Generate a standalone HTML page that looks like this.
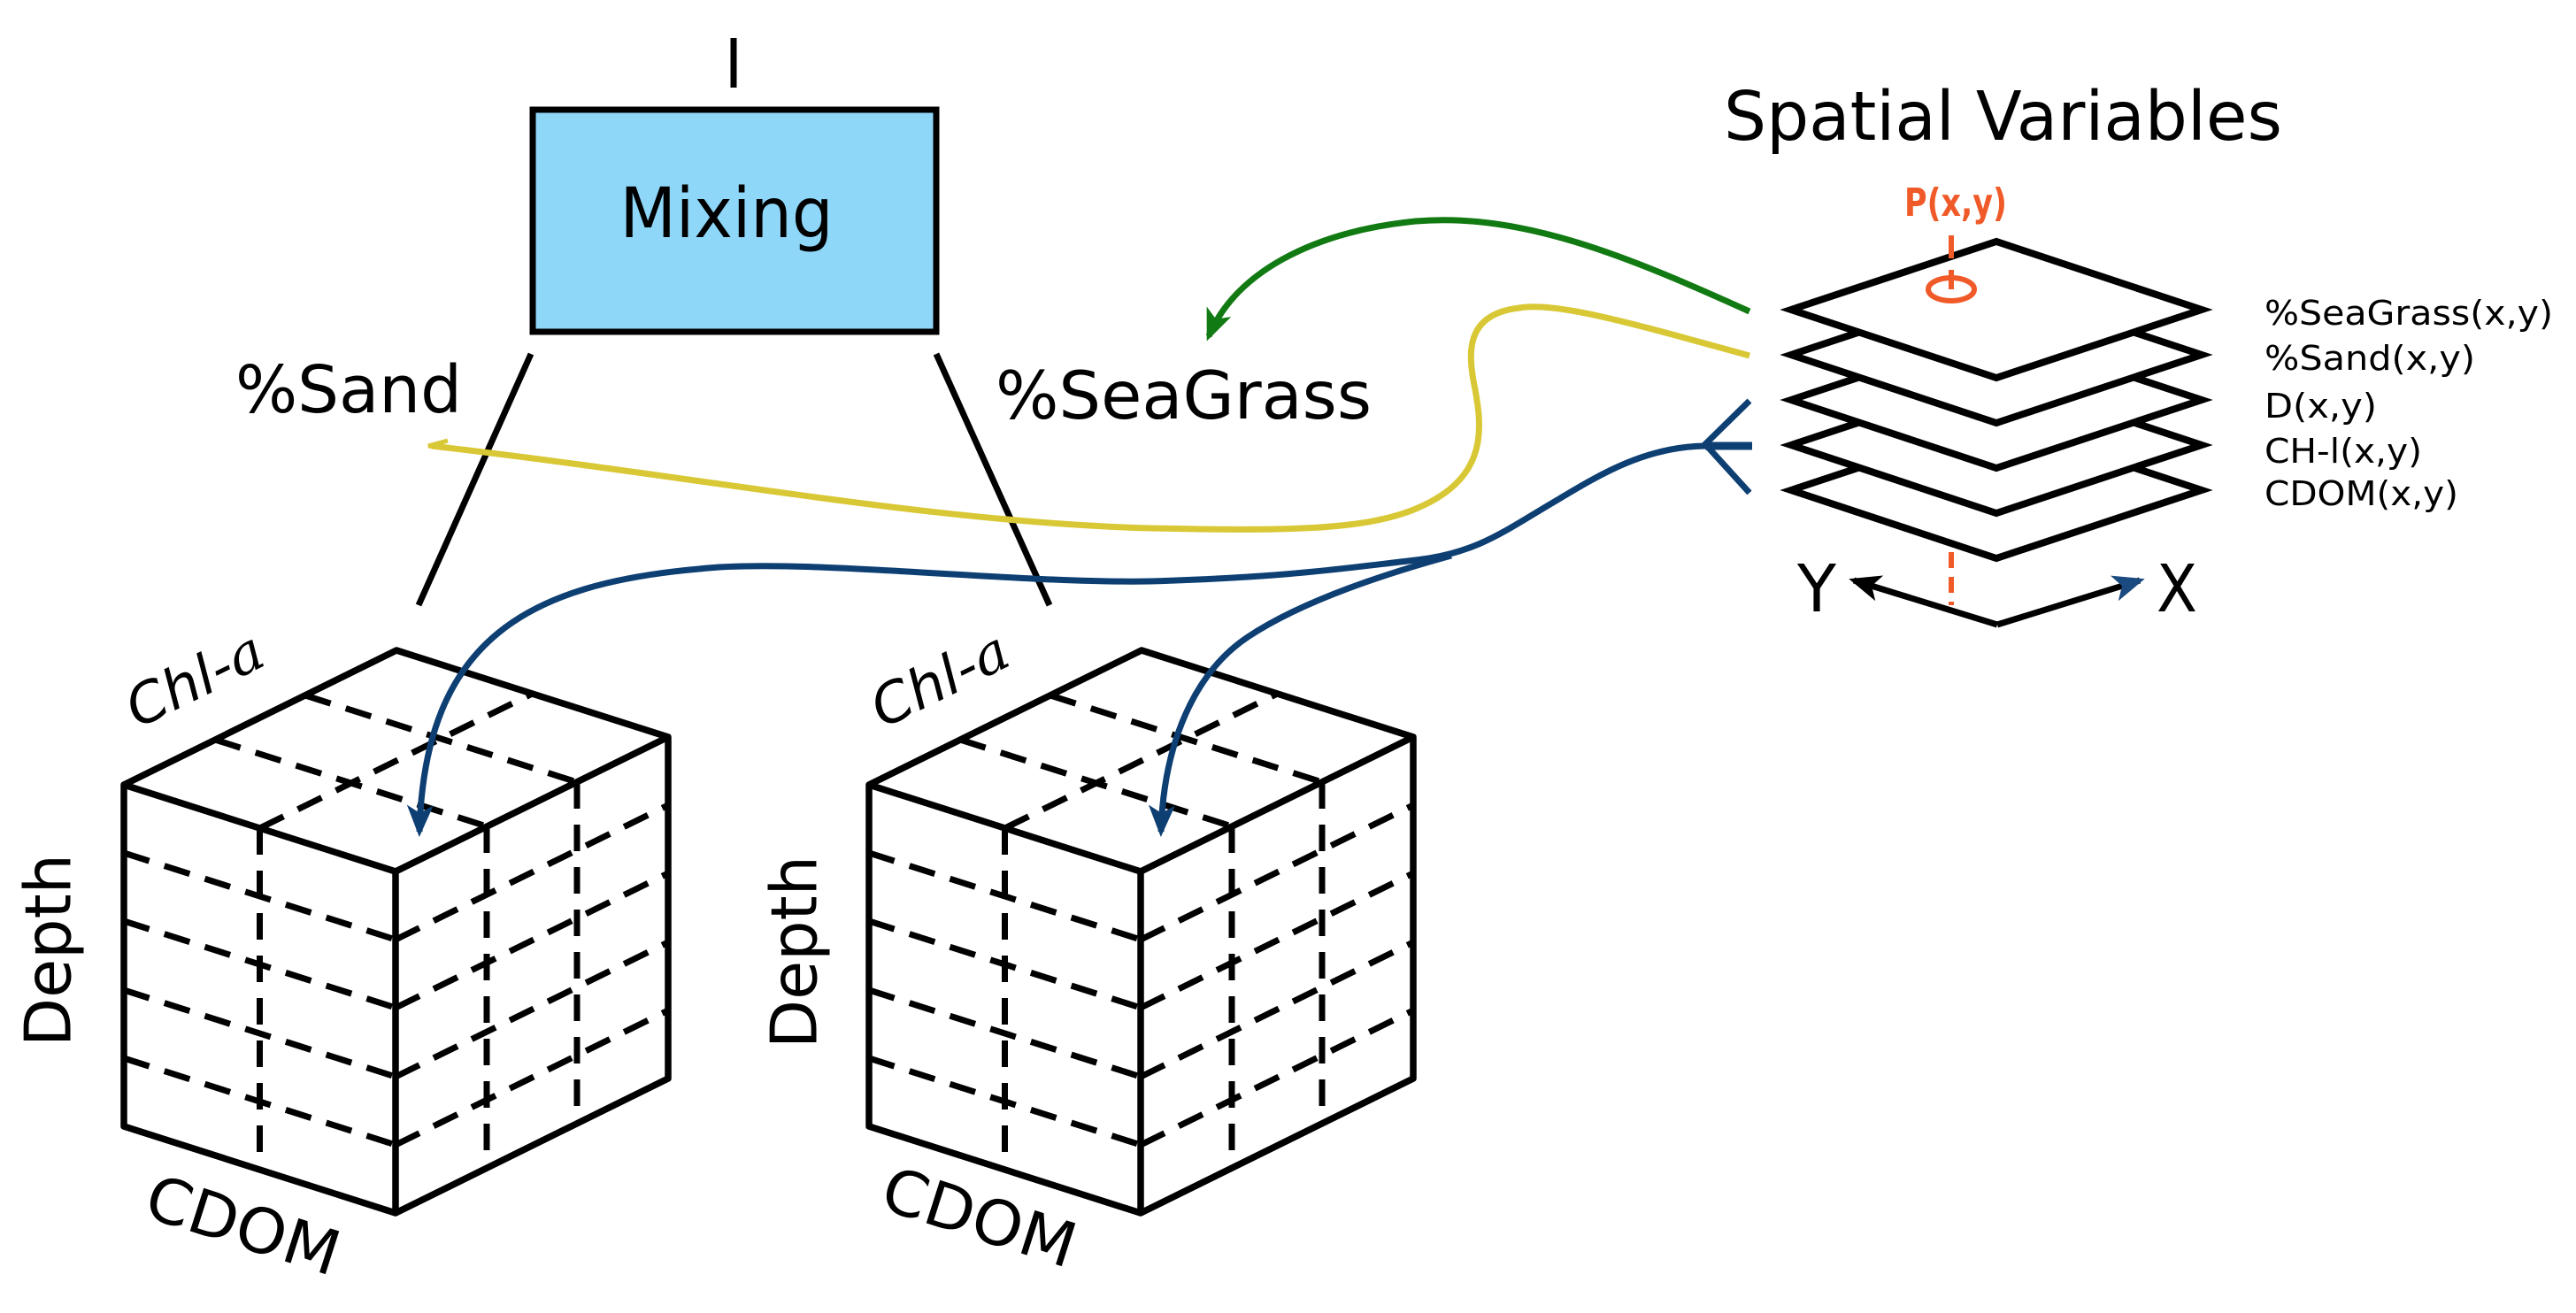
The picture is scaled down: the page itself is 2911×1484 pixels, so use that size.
<!DOCTYPE html>
<html><head><meta charset="utf-8"><style>
html,body{margin:0;padding:0;background:#fff}
svg{display:block}
text{font-family:"DejaVu Sans","Liberation Sans",sans-serif}
</style></head><body>
<svg width="2911" height="1484" viewBox="0 0 2911 1484" xmlns="http://www.w3.org/2000/svg">
<defs>
<marker id="ag" markerWidth="36" markerHeight="30" refX="30" refY="15" orient="auto" markerUnits="userSpaceOnUse" viewBox="0 0 36 30"><path d="M0,0 L36,15 L0,30 L9,15z" fill="#127a12"/></marker>
<marker id="ab" markerWidth="36" markerHeight="30" refX="30" refY="15" orient="auto" markerUnits="userSpaceOnUse" viewBox="0 0 36 30"><path d="M0,0 L36,15 L0,30 L9,15z" fill="#0e3f73"/></marker>
<marker id="ak" markerWidth="36" markerHeight="30" refX="30" refY="15" orient="auto" markerUnits="userSpaceOnUse" viewBox="0 0 36 30"><path d="M0,0 L36,15 L0,30 L9,15z" fill="#000"/></marker>
<marker id="akb" markerWidth="36" markerHeight="30" refX="30" refY="15" orient="auto" markerUnits="userSpaceOnUse" viewBox="0 0 36 30"><path d="M0,0 L36,15 L0,30 L9,15z" fill="#1a4a80"/></marker>
<g id="cube">
  <g fill="none" stroke="#000" stroke-linejoin="round">
    <g stroke-dasharray="30,18" stroke-width="7">
      <line x1="293.5" y1="936" x2="293.5" y2="1322"/>
      <line x1="140" y1="964" x2="447" y2="1062"/>
      <line x1="140" y1="1041" x2="447" y2="1139"/>
      <line x1="140" y1="1119" x2="447" y2="1217"/>
      <line x1="140" y1="1196" x2="447" y2="1294"/>
      <line x1="550" y1="934" x2="550" y2="1320"/>
      <line x1="652" y1="884" x2="652" y2="1270"/>
      <line x1="447" y1="1062" x2="755" y2="910"/>
      <line x1="447" y1="1139" x2="755" y2="987"/>
      <line x1="447" y1="1217" x2="755" y2="1065"/>
      <line x1="447" y1="1294" x2="755" y2="1142"/>
      <line x1="243" y1="836" x2="550" y2="934"/>
      <line x1="345" y1="786" x2="652" y2="884"/>
      <line x1="293.5" y1="936" x2="601.5" y2="784"/>
    </g>
    <g stroke-width="7.5">
    <path d="M140,887 L448,735 L755,833 L755,1219 L447,1371 L140,1273 Z"/>
    <path d="M140,887 L447,985 L755,833 M447,985 L447,1371"/>
    </g>
  </g>
</g>
</defs>

<line x1="829" y1="43" x2="829" y2="99" stroke="#000" stroke-width="7"/>
<rect x="602" y="124" width="456" height="251" fill="#8fd7f9" stroke="#000" stroke-width="7"/>
<text x="821" y="268" font-size="78" text-anchor="middle" textLength="241" lengthAdjust="spacingAndGlyphs">Mixing</text>
<line x1="600" y1="400" x2="473" y2="684" stroke="#000" stroke-width="7"/>
<line x1="1058" y1="400" x2="1186" y2="684" stroke="#000" stroke-width="7"/>
<text x="266" y="466" font-size="74" textLength="256" lengthAdjust="spacingAndGlyphs">%Sand</text>
<text x="1125" y="473" font-size="75" textLength="425" lengthAdjust="spacingAndGlyphs">%SeaGrass</text>

<use href="#cube"/>
<use href="#cube" transform="translate(842,0)"/>

<text font-size="62" font-style="italic" transform="translate(222,772) rotate(-26)" text-anchor="middle" dominant-baseline="middle" textLength="165" lengthAdjust="spacingAndGlyphs">Chl-<tspan font-family="DejaVu Serif">a</tspan></text>
<text font-size="62" font-style="italic" transform="translate(1064,772) rotate(-26)" text-anchor="middle" dominant-baseline="middle" textLength="165" lengthAdjust="spacingAndGlyphs">Chl-<tspan font-family="DejaVu Serif">a</tspan></text>
<text font-size="72" transform="translate(60,1074) rotate(-90)" text-anchor="middle" dominant-baseline="middle" textLength="218" lengthAdjust="spacingAndGlyphs">Depth</text>
<text font-size="72" transform="translate(903,1076) rotate(-90)" text-anchor="middle" dominant-baseline="middle" textLength="218" lengthAdjust="spacingAndGlyphs">Depth</text>
<text font-size="70" transform="translate(273,1390) rotate(17.7)" text-anchor="middle" dominant-baseline="middle" textLength="225" lengthAdjust="spacingAndGlyphs">CDOM</text>
<text font-size="70" transform="translate(1105,1381) rotate(17.7)" text-anchor="middle" dominant-baseline="middle" textLength="225" lengthAdjust="spacingAndGlyphs">CDOM</text>

<path d="M1977,352 C1840,290 1720,240 1600,250 C1480,262 1395,310 1366,380" fill="none" stroke="#127a12" stroke-width="7" marker-end="url(#ag)"/>
<path d="M1977,402 C1860,370 1760,340 1717,348 C1655,355 1660,400 1665,430 C1675,480 1685,540 1600,575 C1540,600 1450,600 1300,597 C1050,590 800,540 488,504" fill="none" stroke="#d9c835" stroke-width="7"/>
<path d="M506,506 L484,504 L506,498" fill="none" stroke="#d9c835" stroke-width="5"/>
<path d="M1977,453 L1927,502 L1977,557" fill="none" stroke="#0e3f73" stroke-width="7"/>
<line x1="1927" y1="504" x2="1980" y2="504" stroke="#0e3f73" stroke-width="9"/>
<path d="M1927,504 C1860,505 1810,535 1760,565 C1700,600 1670,625 1600,633 C1520,642 1460,652 1300,657 C1150,660 900,630 790,643 C600,660 480,720 474,940" fill="none" stroke="#0e3f73" stroke-width="7" marker-end="url(#ab)"/>
<path d="M1640,628 C1560,650 1470,680 1410,720 C1350,760 1315,840 1312,940" fill="none" stroke="#0e3f73" stroke-width="7" marker-end="url(#ab)"/>

<text x="1948" y="158" font-size="77" textLength="631" lengthAdjust="spacingAndGlyphs">Spatial Variables</text>
<text x="2152" y="244" font-size="44" font-weight="bold" fill="#f05a28" textLength="116" lengthAdjust="spacingAndGlyphs">P(x,y)</text>
<g stroke="#000" stroke-width="8" fill="#fff" stroke-linejoin="miter">
  <polygon points="2024,554 2256,477 2488,554 2256,631"/>
  <polygon points="2024,503 2256,426 2488,503 2256,580"/>
  <polygon points="2024,452 2256,375 2488,452 2256,529"/>
  <polygon points="2024,401 2256,324 2488,401 2256,478"/>
  <polygon points="2024,350 2256,273 2488,350 2256,427"/>
</g>
<line x1="2205" y1="266" x2="2205" y2="292" stroke="#f05a28" stroke-width="6"/>
<ellipse cx="2205" cy="327" rx="26" ry="13" fill="none" stroke="#f05a28" stroke-width="6"/>
<line x1="2205" y1="305" x2="2205" y2="327" stroke="#f05a28" stroke-width="6"/>
<line x1="2205" y1="624" x2="2205" y2="684" stroke="#f05a28" stroke-width="6" stroke-dasharray="18,10"/>
<path d="M2257,706 L2095,656" fill="none" stroke="#000" stroke-width="7" marker-end="url(#ak)"/>
<path d="M2257,706 L2418,656" fill="none" stroke="#000" stroke-width="7" marker-end="url(#akb)"/>
<text x="2031" y="691" font-size="74" textLength="44" lengthAdjust="spacingAndGlyphs">Y</text>
<text x="2437" y="691" font-size="74" textLength="46" lengthAdjust="spacingAndGlyphs">X</text>
<g font-size="38">
<text x="2559" y="367" textLength="326" lengthAdjust="spacingAndGlyphs">%SeaGrass(x,y)</text>
<text x="2559" y="418" textLength="238" lengthAdjust="spacingAndGlyphs">%Sand(x,y)</text>
<text x="2559" y="472" textLength="127" lengthAdjust="spacingAndGlyphs">D(x,y)</text>
<text x="2559" y="523" textLength="178" lengthAdjust="spacingAndGlyphs">CH-l(x,y)</text>
<text x="2559" y="571" textLength="219" lengthAdjust="spacingAndGlyphs">CDOM(x,y)</text>
</g>
</svg>
</body></html>
